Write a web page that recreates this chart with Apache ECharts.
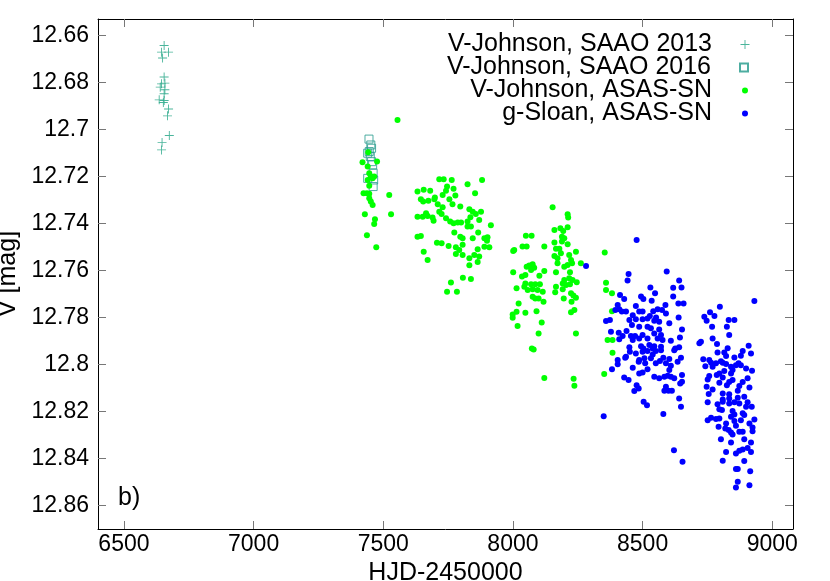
<!DOCTYPE html>
<html>
<head>
<meta charset="utf-8">
<script src="https://cdn.jsdelivr.net/npm/echarts@6/dist/echarts.min.js"></script>
<style>
  html, body { margin: 0; padding: 0; background: #fff; }
  #chart { width: 830px; height: 581px; }
</style>
</head>
<body>
<div id="chart"></div>
<script>
// HJD-2450000, V [mag]
const saao2013 = [
  [6655, 12.6643], [6645, 12.6671], [6672, 12.6671], [6649, 12.6696], [6655, 12.6777],
  [6645, 12.6806], [6658, 12.6803], [6640, 12.682], [6658, 12.6831], [6655, 12.6848],
  [6636, 12.6874], [6655, 12.6877], [6652, 12.6885], [6672, 12.6913], [6668, 12.6942],
  [6647, 12.7056], [6675, 12.7026], [6645, 12.7087]
];

const saao2016 = [
  [7445, 12.7041], [7452, 12.7066], [7455, 12.708], [7446, 12.7094], [7440, 12.7101],
  [7450, 12.7115], [7455, 12.7137], [7459, 12.7151], [7461, 12.7186], [7440, 12.7208],
  [7463, 12.7215], [7461, 12.7243]
];

const vAsas = [
  // 2016 season
  [7555, 12.696], [7420, 12.7139], [7442, 12.7097], [7476, 12.7136], [7440, 12.7158],
  [7446, 12.7186], [7452, 12.72], [7459, 12.7208], [7440, 12.7215], [7465, 12.72],
  [7446, 12.724], [7424, 12.7271], [7437, 12.7271], [7446, 12.7274], [7446, 12.7293],
  [7452, 12.7307], [7459, 12.7321], [7523, 12.7279], [7429, 12.7361], [7530, 12.7361],
  [7468, 12.7382], [7465, 12.7402], [7437, 12.745], [7473, 12.7501],
  // 2017 season
  [7716, 12.7212], [7733, 12.7212], [7764, 12.7215], [7825, 12.7233], [7881, 12.7215],
  [7632, 12.7264], [7656, 12.7257], [7681, 12.7261], [7746, 12.7243], [7771, 12.7252],
  [7742, 12.7261], [7729, 12.7279], [7854, 12.7271], [7778, 12.7281], [7699, 12.729],
  [7645, 12.7297], [7654, 12.7307], [7674, 12.7303], [7697, 12.7297], [7755, 12.7297],
  [7710, 12.7318], [7767, 12.7318], [7797, 12.7328], [7729, 12.7331], [7832, 12.734],
  [7845, 12.735], [7877, 12.735], [7665, 12.7357], [7632, 12.7371], [7652, 12.7371],
  [7671, 12.7368], [7690, 12.7375], [7694, 12.7388], [7716, 12.735], [7725, 12.736],
  [7742, 12.7378], [7758, 12.7392], [7771, 12.7399], [7787, 12.7396], [7800, 12.7396],
  [7825, 12.7392], [7836, 12.7374], [7857, 12.736], [7870, 12.7385], [7825, 12.7413],
  [7838, 12.7413], [7915, 12.7408], [7774, 12.7438], [7866, 12.7438], [7632, 12.7457],
  [7645, 12.7453], [7797, 12.7456], [7806, 12.7463], [7845, 12.7463], [7890, 12.7463],
  [7902, 12.7459], [7707, 12.7482], [7725, 12.7484], [7752, 12.7496], [7780, 12.7501],
  [7806, 12.7491], [7900, 12.7473], [7909, 12.7501], [7890, 12.7499], [7864, 12.751],
  [7793, 12.7513], [7780, 12.753], [7806, 12.7534], [7851, 12.7534], [7832, 12.7548],
  [7870, 12.7541], [7656, 12.752], [7671, 12.7555], [7832, 12.7578], [7864, 12.7564],
  [7807, 12.7631], [7838, 12.7636], [7761, 12.7651], [7746, 12.7691], [7784, 12.7691],
  // 2018 season
  [8153, 12.7331], [8211, 12.7361], [8213, 12.7375], [8160, 12.7428], [8183, 12.742],
  [8194, 12.7432], [8211, 12.7416], [8189, 12.7456], [8198, 12.7463], [8189, 12.7477],
  [8160, 12.7481], [8211, 12.7488], [8050, 12.7452], [8072, 12.7452], [8037, 12.7498],
  [8053, 12.7498], [8005, 12.7513], [8001, 12.7517], [8121, 12.7498], [8166, 12.7508],
  [8179, 12.7508], [8185, 12.7527], [8160, 12.7538], [8172, 12.7548], [8217, 12.7534],
  [8243, 12.752], [8224, 12.7555], [8262, 12.7569], [8172, 12.7569], [8198, 12.7584],
  [8211, 12.7577], [8228, 12.7569], [8076, 12.7574], [8063, 12.7579], [8053, 12.7584],
  [8082, 12.7588], [8070, 12.7598], [8001, 12.7608], [8048, 12.7619], [8035, 12.7626],
  [8102, 12.7622], [8121, 12.7602], [8166, 12.7608], [8220, 12.7608], [8217, 12.7633],
  [8198, 12.7641], [8230, 12.7641], [8246, 12.765], [8192, 12.7655], [8048, 12.7655],
  [8070, 12.7659], [8086, 12.7659], [8104, 12.7659], [8044, 12.7669], [8014, 12.7676],
  [8057, 12.7683], [8076, 12.768], [8095, 12.7683], [8115, 12.769], [8166, 12.7669],
  [8163, 12.7693], [8192, 12.768], [8220, 12.7659], [8205, 12.7662], [8224, 12.7697],
  [8233, 12.7707], [8243, 12.7716], [8196, 12.7719], [8076, 12.7712], [8086, 12.7719],
  [8099, 12.7719], [8118, 12.7733], [8226, 12.7733], [8022, 12.774], [8014, 12.7776],
  [7999, 12.7787], [7999, 12.7801], [8048, 12.778], [8091, 12.7773], [8224, 12.7778],
  [8237, 12.7768], [8111, 12.7821], [8018, 12.7836], [8099, 12.7868], [8243, 12.7868],
  [8073, 12.7932], [8080, 12.7936], [8121, 12.8058], [8234, 12.8061], [8237, 12.8091],
  // 2019 season start
  [8354, 12.7524], [8359, 12.7652], [8359, 12.7683], [8382, 12.7697], [8382, 12.7773],
  [8365, 12.7896], [8384, 12.7896], [8384, 12.795], [8352, 12.8041]
];

const gAsas = [
  [8282, 12.7581],
  // 2019 season
  [8477, 12.747], [8593, 12.7604], [8446, 12.7615], [8442, 12.7643], [8641, 12.7643],
  [8530, 12.7672], [8618, 12.7673], [8650, 12.7672], [8548, 12.7697], [8413, 12.7704],
  [8429, 12.7721], [8494, 12.7711], [8503, 12.7721], [8535, 12.7729], [8618, 12.7711],
  [8588, 12.7747], [8638, 12.774], [8658, 12.774], [8404, 12.7747], [8395, 12.7768],
  [8410, 12.7765], [8420, 12.7775], [8436, 12.7775], [8474, 12.7751], [8487, 12.7775],
  [8500, 12.7775], [8541, 12.7773], [8558, 12.7765], [8575, 12.7768], [8590, 12.7783],
  [8462, 12.779], [8528, 12.7794], [8519, 12.7804], [8552, 12.78], [8639, 12.78],
  [8359, 12.7815], [8374, 12.7811], [8449, 12.7811], [8474, 12.7808], [8500, 12.7808],
  [8545, 12.7814], [8564, 12.7818], [8603, 12.7825], [8459, 12.7832], [8487, 12.7839],
  [8519, 12.7839], [8532, 12.7846], [8564, 12.7851], [8652, 12.7851], [8378, 12.7861],
  [8408, 12.7865], [8438, 12.7858], [8423, 12.7879], [8455, 12.7879], [8471, 12.7879],
  [8500, 12.7875], [8545, 12.7868], [8571, 12.7875], [8410, 12.7893], [8462, 12.7896],
  [8487, 12.7889], [8519, 12.7889], [8558, 12.7889], [8577, 12.7896], [8609, 12.7899],
  [8644, 12.7885], [8449, 12.7927], [8494, 12.7922], [8526, 12.7917], [8545, 12.7922],
  [8571, 12.7925], [8626, 12.7932], [8641, 12.7927], [8503, 12.7932], [8539, 12.7932],
  [8451, 12.7946], [8436, 12.7967], [8474, 12.7953], [8500, 12.7946], [8519, 12.7943],
  [8551, 12.7943], [8571, 12.7939], [8622, 12.7939], [8539, 12.7957], [8404, 12.7981],
  [8433, 12.7971], [8487, 12.7981], [8507, 12.7974], [8532, 12.7974], [8580, 12.7971],
  [8603, 12.7977], [8648, 12.7971], [8404, 12.7999], [8462, 12.8014], [8485, 12.7988],
  [8510, 12.7995], [8551, 12.7995], [8567, 12.7985], [8590, 12.7995], [8635, 12.7988],
  [8609, 12.8005], [8519, 12.802], [8603, 12.8024], [8382, 12.802], [8487, 12.8038],
  [8500, 12.8034], [8545, 12.8052], [8564, 12.8059], [8584, 12.8052], [8597, 12.8048],
  [8609, 12.8052], [8622, 12.8059], [8652, 12.8045], [8429, 12.8055], [8446, 12.8066],
  [8652, 12.8073], [8645, 12.8081], [8477, 12.8088], [8485, 12.8102], [8468, 12.8113],
  [8590, 12.8095], [8584, 12.8112], [8600, 12.8112], [8613, 12.8112], [8641, 12.8145],
  [8648, 12.818], [8504, 12.8159], [8517, 12.8173], [8580, 12.8211], [8350, 12.822],
  [8621, 12.8365], [8654, 12.8414],
  // 2020 season
  [8931, 12.773], [8798, 12.7754], [8760, 12.7778], [8738, 12.7797], [8777, 12.7794],
  [8747, 12.7814], [8832, 12.7811], [8854, 12.7811], [8768, 12.7839], [8825, 12.7839],
  [8770, 12.7889], [8834, 12.7875], [8725, 12.7903], [8719, 12.791], [8787, 12.7913],
  [8828, 12.7931], [8909, 12.792], [8789, 12.7949], [8815, 12.7949], [8886, 12.7943],
  [8918, 12.7953], [8879, 12.7963], [8822, 12.7964], [8734, 12.7978], [8757, 12.7981],
  [8802, 12.7986], [8854, 12.797], [8764, 12.7993], [8783, 12.7995], [8809, 12.7993],
  [8822, 12.7998], [8870, 12.7995], [8742, 12.8007], [8770, 12.801], [8841, 12.801],
  [8860, 12.8003], [8879, 12.8003], [8899, 12.8017], [8922, 12.8027], [8815, 12.8028],
  [8796, 12.8038], [8786, 12.8045], [8847, 12.8024], [8841, 12.8038], [8757, 12.8049],
  [8809, 12.8055], [8751, 12.8064], [8847, 12.8066], [8905, 12.8059], [8886, 12.8074],
  [8796, 12.8078], [8834, 12.8074], [8825, 12.8088], [8873, 12.8092], [8747, 12.8095],
  [8770, 12.8106], [8867, 12.8112], [8912, 12.8098], [8755, 12.8126], [8809, 12.8123],
  [8834, 12.8127], [8892, 12.8137], [8809, 12.8149], [8834, 12.8145], [8867, 12.8142],
  [8751, 12.8161], [8789, 12.8169], [8809, 12.8159], [8834, 12.8166], [8854, 12.8161],
  [8873, 12.8166], [8905, 12.8161], [8921, 12.818], [8899, 12.818], [8796, 12.819],
  [8806, 12.8194], [8847, 12.8198], [8886, 12.8208], [8751, 12.8237], [8764, 12.8227],
  [8783, 12.8232], [8796, 12.823], [8841, 12.8222], [8854, 12.8213], [8892, 12.8215],
  [8931, 12.8234], [8912, 12.8251], [8924, 12.8268], [8924, 12.8284], [8879, 12.8237],
  [8854, 12.8241], [8822, 12.8251], [8793, 12.8265], [8819, 12.8272], [8832, 12.8279],
  [8841, 12.8289], [8860, 12.8261], [8873, 12.8286], [8886, 12.8286], [8847, 12.8298],
  [8802, 12.8318], [8841, 12.8332], [8892, 12.8318], [8918, 12.8332], [8905, 12.8355],
  [8886, 12.8362], [8873, 12.8367], [8860, 12.8379], [8822, 12.8372], [8918, 12.8372],
  [8809, 12.841], [8892, 12.8411], [8867, 12.8445], [8915, 12.8454], [8860, 12.8445],
  [8867, 12.8499], [8912, 12.8514], [8860, 12.8523]
];

const xTicks = [6500, 7000, 7500, 8000, 8500, 9000];
const yTicks = [12.66, 12.68, 12.7, 12.72, 12.74, 12.76, 12.78, 12.8, 12.82, 12.84, 12.86];
const seriesNames = ["V-Johnson, SAAO 2013", "V-Johnson, SAAO 2016", "V-Johnson, ASAS-SN", "g-Sloan, ASAS-SN"];

const FONT = "Liberation Sans";
const plusPath = "path://M0,4.5H10V5.5H0Z M4.5,0H5.5V10H4.5Z";

const chart = echarts.init(document.getElementById("chart"), null, { renderer: "canvas" });

const frameLine = { show: true, onZero: false, lineStyle: { color: "#000", width: 1 } };
const innerTick = { show: true, inside: true, length: 8, lineStyle: { color: "#777", width: 1 } };

const legendRow = (name, top, size) => ({
  data: [name],
  orient: "vertical",
  align: "right",
  right: 830 - 750 - size / 2,
  top: top,
  itemWidth: size,
  itemHeight: size,
  selectedMode: false,
  textStyle: { fontFamily: FONT, fontSize: 25, color: "#000", padding: [0, 28 - size / 2, 0, 0] }
});

const option = {
  animation: false,
  backgroundColor: "#fff",
  grid: { left: 98, right: 37, top: 19, bottom: 52, containLabel: false, outerBoundsMode: "none" },
  legend: [
    legendRow(seriesNames[0], 27, 9),
    legendRow(seriesNames[1], 50, 8),
    legendRow(seriesNames[2], 73, 6),
    legendRow(seriesNames[3], 96, 6)
  ],
  xAxis: [
    {
      type: "value", min: 6400, max: 9080, position: "bottom",
      name: "HJD-2450000", nameLocation: "middle", nameGap: 20,
      nameTextStyle: { fontFamily: FONT, fontSize: 25, color: "#000" },
      axisLine: frameLine,
      axisTick: Object.assign({ customValues: xTicks }, innerTick),
      axisLabel: {
        customValues: xTicks, fontFamily: FONT, fontSize: 23, color: "#000", margin: 4,
        formatter: v => String(v)
      },
      splitLine: { show: false }
    },
    {
      type: "value", min: 6400, max: 9080, position: "top",
      axisLine: frameLine,
      axisTick: Object.assign({ customValues: xTicks }, innerTick),
      axisLabel: { show: false },
      splitLine: { show: false }
    }
  ],
  yAxis: [
    {
      type: "value", min: 12.653, max: 12.870, inverse: true, position: "left",
      name: "V [mag]", nameLocation: "middle", nameGap: 73, nameRotate: 90,
      nameTextStyle: { fontFamily: FONT, fontSize: 25, color: "#000" },
      axisLine: frameLine,
      axisTick: Object.assign({ customValues: yTicks }, innerTick),
      axisLabel: {
        customValues: yTicks, fontFamily: FONT, fontSize: 23, color: "#000", margin: 9,
        formatter: v => String(+v.toFixed(2))
      },
      splitLine: { show: false }
    },
    {
      type: "value", min: 12.653, max: 12.870, inverse: true, position: "right",
      axisLine: frameLine,
      axisTick: Object.assign({ customValues: yTicks }, innerTick),
      axisLabel: { show: false },
      splitLine: { show: false }
    }
  ],
  graphic: [
    { type: "text", left: 118, top: 486, style: { text: "b)", font: "25px " + FONT, fill: "#000" } }
  ],
  series: [
    {
      name: seriesNames[0], type: "scatter", data: saao2013,
      symbol: plusPath, symbolSize: 9,
      itemStyle: { color: "#2aa889", opacity: 0.85 }
    },
    {
      name: seriesNames[1], type: "scatter", data: saao2016,
      symbol: "rect", symbolSize: 8,
      itemStyle: { color: "transparent", borderColor: "#2e9f90", borderWidth: 1, opacity: 0.85 }
    },
    {
      name: seriesNames[2], type: "scatter", data: vAsas,
      symbol: "circle", symbolSize: 6,
      itemStyle: { color: "#00ff00", opacity: 1 }
    },
    {
      name: seriesNames[3], type: "scatter", data: gAsas,
      symbol: "circle", symbolSize: 6,
      itemStyle: { color: "#0000ff", opacity: 1 }
    }
  ]
};

chart.setOption(option);
</script>
</body>
</html>
